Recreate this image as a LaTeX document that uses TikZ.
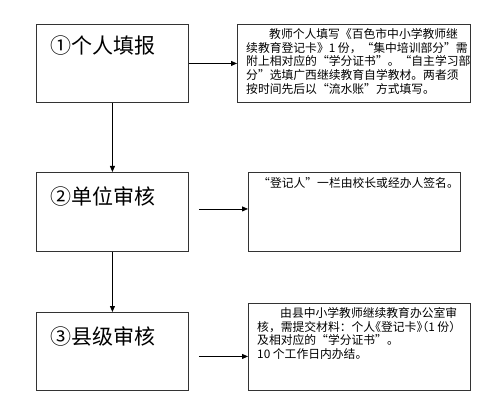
\documentclass[tikz,border=0pt]{standalone}
\usepackage{fontspec}
\setmainfont{Noto Sans CJK SC}
\newfontfamily\halffont[RawFeature=+halt]{Noto Sans CJK SC}
\usetikzlibrary{arrows.meta,calc}
\begin{document}
\begin{tikzpicture}[x=1pt,y=-1pt,
  stagebox/.style={draw=black!80,line width=0.9pt,rectangle,inner sep=0pt,anchor=north west},
  titletext/.style={anchor=west,inner sep=0pt,font=\fontsize{21}{24}\selectfont},
  notetext/.style={anchor=north west,inner sep=0pt,align=left,font=\fontsize{11.8}{13.8}\selectfont},
  flow/.style={draw=black,line width=0.8pt,-{Triangle[length=6pt,width=5pt]}}]
\useasboundingbox (0,0) rectangle (500,403);
% left boxes
\node[stagebox,minimum width=152pt,minimum height=78pt] (b1) at (36,24) {};
\node[stagebox,minimum width=152pt,minimum height=79pt] (b2) at (36,172) {};
\node[stagebox,minimum width=152pt,minimum height=78pt] (b3) at (36,312) {};
% right boxes
\node[stagebox,minimum width=233pt,minimum height=78pt] (r1) at (237,24) {};
\node[stagebox,minimum width=212pt,minimum height=79pt] (r2) at (248,172) {};
\node[stagebox,minimum width=222pt,minimum height=87pt] (r3) at (248,303) {};
% titles
\node[titletext] (t1) at (50,46) {①个人填报};
\node[titletext] (t2) at (50,197) {②单位审核};
\node[titletext] (t3) at (50,337) {③县级审核};
% notes
\node[notetext] (n1) at (246,28) {\hspace*{23pt}教师个人填写《百色市中小学教师继\\续教育登记卡》1 份，“集中培训部分”需\\附上相对应的“学分证书”。“自主学习部\\分”选填广西继续教育自学教材。两者须\\按时间先后以“流水账”方式填写。};
\node[notetext] (n2) at (258,177) {“登记人”一栏由校长或经办人签名。};
\node[notetext] (n3) at (257,307) {\hspace*{23pt}由县中小学教师继续教育办公室审\\核，需提交材料：个人{\halffont 《登记卡》（1 份）}\\及相对应的“学分证书”。\\10 个工作日内办结。};
% connectors
\draw[flow] (b1.east) -- (r1.west);
\coordinate (c2) at ($(b2.east)+(10,-3)$);
\draw[flow] (c2) -- (c2 -| r2.west);
\coordinate (c3) at ($(b3.east)+(10,5)$);
\draw[flow] (c3) -- (c3 -| r3.west);
\draw[flow] (b1.south) -- (b2.north);
\draw[flow] (b2.south) -- (b3.north);
\end{tikzpicture}
\end{document}
